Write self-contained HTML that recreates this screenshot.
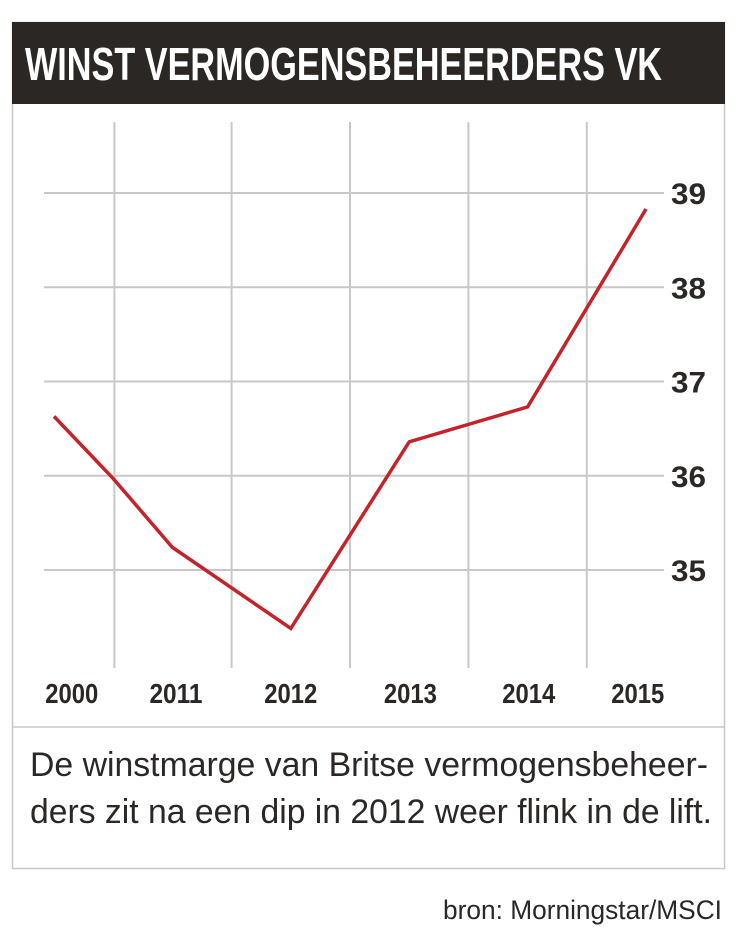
<!DOCTYPE html>
<html><head><meta charset="utf-8"><style>
html,body{margin:0;padding:0;background:#fff;}
svg{display:block;font-family:"Liberation Sans",sans-serif;}
</style></head><body>
<svg width="737" height="943" viewBox="0 0 737 943">
  <rect x="12.5" y="22.5" width="712" height="846" fill="#fff" stroke="#c8c8c8" stroke-width="1.5"/>
  <rect x="12" y="22" width="713" height="82" fill="#2b2725"/>
  <text x="25" y="80" fill="#fff" font-weight="bold" font-size="46" textLength="637" lengthAdjust="spacingAndGlyphs">WINST VERMOGENSBEHEERDERS VK</text>
  <g id="grid"></g>
  <g id="yticks"></g>
  <g id="xticks"></g>
  <polyline id="line" fill="none" stroke="#c3242b" stroke-width="3.5" stroke-linejoin="miter"/>
  <line x1="12" y1="727" x2="725" y2="727" stroke="#c8c8c8" stroke-width="1.5"/>
  <text x="30" y="776" fill="#2b2725" font-size="34" textLength="678" lengthAdjust="spacingAndGlyphs">De winstmarge van Britse vermogensbeheer-</text>
  <text x="30" y="823" fill="#2b2725" font-size="34" textLength="682" lengthAdjust="spacingAndGlyphs">ders zit na een dip in 2012 weer flink in de lift.</text>
  <text x="443" y="919" fill="#2b2725" font-size="27" textLength="279" lengthAdjust="spacingAndGlyphs">bron: Morningstar/MSCI</text>
</svg>
<script>
const positions = [0, 0.5, 1, 2, 3, 4, 5];
const values = [36.63, 35.97, 35.24, 34.38, 36.36, 36.73, 38.83];
const yTicks = [35, 36, 37, 38, 39];
const xLabels = ["2000", "2011", "2012", "2013", "2014", "2015"];
const xLabelPos = [0.15, 1.03, 2, 3.01, 4.01, 4.93];
const gridPos = [0.51, 1.5, 2.5, 3.5, 4.5];

const NS = "http://www.w3.org/2000/svg";
function xS(p){ return 54 + p * 118.4; }
function yS(v){ return 193 + (39 - v) * 94.25; }
function mk(tag, attrs, parent){
  const e = document.createElementNS(NS, tag);
  for (const k in attrs) e.setAttribute(k, attrs[k]);
  parent.appendChild(e); return e;
}
const grid = document.getElementById("grid");
yTicks.forEach(t => {
  const l = mk("line", {x1:44, x2:664, y1:yS(t), y2:yS(t), stroke:"#c8c8c8", "stroke-width":2}, grid);
  
  
  const tx = mk("text", {x:671, y:yS(t)+11, "font-size":30, "font-weight":"bold", fill:"#2b2725", textLength:35, lengthAdjust:"spacingAndGlyphs"}, document.getElementById("yticks"));
  tx.textContent = t;
  
  
});
gridPos.forEach(p => {
  const l = mk("line", {x1:xS(p), x2:xS(p), y1:122, y2:668, stroke:"#c8c8c8", "stroke-width":2}, grid);
  
  
});
xLabels.forEach((lab, i) => {
  const tx = mk("text", {x:xS(xLabelPos[i]), y:703, "font-size":28, "font-weight":"bold", fill:"#2b2725", "text-anchor":"middle", textLength:53, lengthAdjust:"spacingAndGlyphs"}, document.getElementById("xticks"));
  tx.textContent = lab;
  
  
});
document.getElementById("line").setAttribute("points", positions.map((p,i)=>xS(p)+","+yS(values[i])).join(" "));
</script>
</body></html>
